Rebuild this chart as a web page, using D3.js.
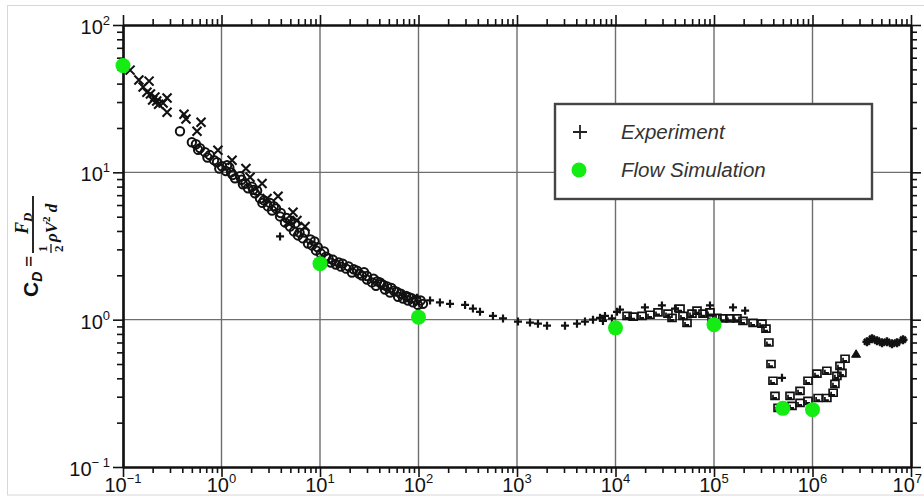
<!DOCTYPE html>
<html lang="en">
<head>
  <meta charset="UTF-8">
  <title>Drag coefficient of a cylinder</title>
  <script src="https://d3js.org/d3.v7.min.js"></script>
  <style>
    body { margin: 0; background: #fff; }
    svg { display: block; font-family: 'Liberation Sans', Arial, sans-serif; }
  </style>
</head>
<body>
  <div id="chart"></div>
  <script>
    // Re, C_D
    const crossPts = [
      [0.118, 49.4], [0.145, 42.3], [0.184, 41.6], [0.175, 35.0], [0.16, 38.0], [0.19, 34.0],
      [0.211, 32.4], [0.22, 30.5], [0.23, 29.0], [0.20, 31.0], [0.280, 31.9], [0.255, 29.5],
      [0.280, 25.6], [0.416, 24.8], [0.436, 23.0], [0.62, 21.9], [0.564, 19.0], [0.92, 14.1],
      [1.28, 12.1], [1.77, 10.6], [1.95, 9.25], [2.58, 8.4], [2.90, 6.65], [3.75, 6.87],
      [5.32, 5.35], [5.83, 4.71], [4.73, 4.57], [7.05, 4.29]
    ];
    const circlePts = [
      [0.379, 19.0], [0.50, 16.0], [0.55, 15.5], [0.605, 14.6], [0.68, 13.7], [0.76, 13.1],
      [0.84, 12.1], [0.90, 11.7], [1.01, 11.0], [1.14, 11.2], [1.11, 10.2], [1.25, 10.0],
      [1.37, 9.1], [1.54, 9.4], [1.65, 8.3], [1.86, 7.8], [2.04, 8.0], [2.19, 7.2],
      [2.46, 6.65], [2.70, 6.45], [2.96, 5.87], [3.26, 5.51], [3.58, 5.69], [3.93, 5.02],
      [4.41, 4.57], [4.96, 4.29], [5.44, 3.97], [5.98, 3.73], [6.72, 3.56], [7.55, 3.29],
      [8.29, 3.19], [9.1, 2.95], [10.2, 2.81], [11.5, 2.68], [12.9, 2.44], [14.5, 2.37],
      [16.3, 2.29], [18.4, 2.22], [21.1, 2.09], [23.8, 2.15], [26.7, 1.99], [30.0, 1.87],
      [33.7, 1.79], [37.0, 1.70], [40.7, 1.79], [45.7, 1.60], [51.4, 1.53], [56.4, 1.57],
      [62.0, 1.43], [69.6, 1.39], [78.2, 1.35], [87.9, 1.31], [98.8, 1.26], [111, 1.28],
      [1.2, 10.8], [1.6, 8.9], [2.3, 7.5], [3.1, 6.2], [4.0, 5.3], [5.0, 4.7], [6.2, 3.9],
      [8.8, 3.4], [12.2, 2.6], [15.5, 2.45], [19.5, 2.3], [25, 2.05], [28, 2.1], [35, 1.9],
      [42, 1.75], [48, 1.68], [60, 1.55], [75, 1.45], [85, 1.4], [105, 1.35],
      [0.58, 14.2], [0.72, 12.6], [0.95, 10.6], [1.3, 9.6], [1.75, 8.4], [2.1, 7.6],
      [2.6, 6.2], [3.4, 5.9], [4.6, 4.9], [5.6, 4.5], [7.0, 3.9], [8.0, 3.5], [9.5, 3.1],
      [11, 2.9], [13.5, 2.55], [17, 2.4], [22, 2.2], [30, 1.98], [38, 1.82], [44, 1.72],
      [53, 1.64], [66, 1.5], [80, 1.42], [95, 1.36]
    ];
    const plusPts = [
      [3.93, 3.67], [69.6, 1.50], [96.6, 1.41], [131, 1.35], [165, 1.31], [209, 1.28],
      [297, 1.26], [357, 1.19], [421, 1.13], [570, 1.06], [721, 1.02], [1023, 0.97],
      [1355, 0.955], [1633, 0.94], [2017, 0.91], [3070, 0.91], [4065, 0.94], [4900, 0.97],
      [5910, 1.0], [6960, 1.03], [7820, 1.06], [10360, 1.13], [7460, 0.98], [9200, 1.02],
      [11100, 1.17], [19900, 1.21], [29600, 1.25], [40200, 1.19], [91000, 1.25],
      [156000, 1.21], [207000, 1.15], [490000, 0.403]
    ];
    const squarePts = [
      [1.31e4, 1.06], [1.51e4, 1.05], [1.86e4, 1.06], [2.24e4, 1.08], [2.70e4, 1.12],
      [3.41e4, 1.10], [3.75e4, 1.03], [4.52e4, 1.19], [4.84e4, 1.06], [5.32e4, 0.95],
      [5.98e4, 1.10], [6.72e4, 1.15], [7.73e4, 1.10], [9.1e4, 1.12], [9.55e4, 1.02],
      [1.07e5, 1.03], [1.23e5, 1.02], [1.45e5, 1.02], [1.71e5, 1.02], [1.97e5, 0.98],
      [2.49e5, 0.95], [3.07e5, 0.94], [3.37e5, 0.87], [3.61e5, 0.70], [3.79e5, 0.50],
      [3.97e5, 0.385], [4.16e5, 0.304], [4.47e5, 0.252], [5.91e5, 0.304], [6.19e5, 0.26],
      [7.47e5, 0.329], [7.47e5, 0.272], [9.0e5, 0.281], [9.0e5, 0.385], [1.11e6, 0.43],
      [1.14e6, 0.294], [1.40e6, 0.45], [1.40e6, 0.294], [1.62e6, 0.319], [1.69e6, 0.367],
      [1.77e6, 0.416], [1.90e6, 0.486], [2.14e6, 0.543], [1.99e6, 0.436]
    ];
    const trianglePts = [[2.77e6, 0.587]];
    const blobPts = [
      [3.57e6, 0.708], [4.02e6, 0.743], [4.52e6, 0.72], [5.08e6, 0.698],
      [5.70e6, 0.708], [6.41e6, 0.687], [7.21e6, 0.698], [8.30e6, 0.731]
    ];
    const simPts = [
      [0.1, 53], [10, 2.4], [100, 1.04], [1e4, 0.88], [1e5, 0.925], [5e5, 0.25], [1e6, 0.245]
    ];
    const xTickExps = [-1, 0, 1, 2, 3, 4, 5, 6, 7];
    const yTickExps = [-1, 0, 1, 2];
    const legendLabels = ["Experiment", "Flow Simulation"];

    const W = 924, H = 497;
    const simGreen = "#14ec14";

    const svg = d3.select("#chart").append("svg")
      .attr("width", W).attr("height", H);

    // light outer frame
    svg.append("rect").attr("x", 7.5).attr("y", 5.5).attr("width", 930).attr("height", 489.5)
      .attr("fill", "none").attr("stroke", "#d8d8d8").attr("stroke-width", 1);

    const x = d3.scaleLog().domain([0.1, 1e7]).range([123, 911]);
    const y = d3.scaleLog().domain([0.1, 100]).range([467, 25]);

    const majorX = xTickExps.map(e => Math.pow(10, e));
    const majorY = yTickExps.map(e => Math.pow(10, e));
    const minorX = [], minorY = [];
    xTickExps.slice(0, -1).forEach(e => d3.range(2, 10).forEach(k => minorX.push(k * Math.pow(10, e))));
    yTickExps.slice(0, -1).forEach(e => d3.range(2, 10).forEach(k => minorY.push(k * Math.pow(10, e))));

    // grid
    const grid = svg.append("g").attr("stroke", "#6e6e6e").attr("stroke-width", 1.4);
    grid.selectAll(".gx").data(majorX.slice(1, -1)).join("line")
      .attr("x1", d => x(d)).attr("x2", d => x(d)).attr("y1", y(0.1)).attr("y2", y(100));
    grid.selectAll(".gy").data(majorY.slice(1, -1)).join("line")
      .attr("y1", d => y(d)).attr("y2", d => y(d)).attr("x1", x(0.1)).attr("x2", x(1e7));

    // axes with outward ticks
    function styleAxis(g) {
      g.selectAll(".domain").attr("stroke", "#111").attr("stroke-width", 2.2);
      g.selectAll(".tick line").attr("stroke", "#111").attr("stroke-width", 1.6);
      g.selectAll("text").remove();
    }
    const axes = [
      [d3.axisBottom(x), `translate(0,${y(0.1)})`, majorX, minorX],
      [d3.axisTop(x), `translate(0,${y(100)})`, majorX, minorX],
      [d3.axisLeft(y), `translate(${x(0.1)},0)`, majorY, minorY],
      [d3.axisRight(y), `translate(${x(1e7)},0)`, majorY, minorY]
    ];
    axes.forEach(([ax, tr, maj, min]) => {
      svg.append("g").attr("transform", tr)
        .call(ax.tickValues(min).tickSize(6).tickSizeOuter(0).tickFormat(""))
        .call(styleAxis);
      svg.append("g").attr("transform", tr)
        .call(ax.tickValues(maj).tickSize(10).tickSizeOuter(0).tickFormat(""))
        .call(styleAxis);
    });

    // tick labels 10^n (last one kept inside the page edge)
    const lab = svg.append("g").attr("fill", "#111").attr("font-size", 20);
    xTickExps.forEach((e, i) => {
      const last = i === xTickExps.length - 1;
      const t = lab.append("text")
        .attr("x", last ? W - 2 : x(Math.pow(10, e))).attr("y", 492)
        .attr("text-anchor", last ? "end" : "middle");
      t.append("tspan").text("10");
      t.append("tspan").attr("dy", -9).attr("font-size", 13)
        .text(e < 0 ? "\u2212" + (-e) : e);
    });
    yTickExps.forEach(e => {
      const t = lab.append("text").attr("x", 110).attr("y", y(Math.pow(10, e)) + 9)
        .attr("text-anchor", "end");
      t.append("tspan").text("10");
      t.append("tspan").attr("dy", -9).attr("font-size", 13)
        .text(e < 0 ? "\u2212 " + (-e) : e);
    });

    // y axis title, rotated
    const yt = svg.append("g").attr("transform", "translate(33,297) rotate(-90)")
      .attr("fill", "#111").attr("font-family", "'Liberation Serif', serif").attr("font-weight", "bold");
    const cd = yt.append("text").attr("x", 0).attr("y", 5).attr("font-size", 21)
      .attr("font-family", "'Liberation Sans', Arial, sans-serif");
    cd.append("tspan").text("C");
    cd.append("tspan").attr("dy", 4).attr("font-size", 14).attr("font-style", "italic").text("D");
    yt.append("text").attr("x", 30).attr("y", 3).attr("font-size", 20).text("=");
    yt.append("line").attr("x1", 44).attr("x2", 101).attr("y1", 0).attr("y2", 0)
      .attr("stroke", "#111").attr("stroke-width", 1.8);
    const num = yt.append("text").attr("x", 63).attr("y", -5).attr("font-size", 18).attr("font-style", "italic");
    num.append("tspan").text("F");
    num.append("tspan").attr("dy", 4).attr("font-size", 13).text("D");
    yt.append("text").attr("x", 45).attr("y", 14).attr("font-size", 13).text("1");
    yt.append("line").attr("x1", 44).attr("x2", 53).attr("y1", 18).attr("y2", 18)
      .attr("stroke", "#111").attr("stroke-width", 1.3);
    yt.append("text").attr("x", 45).attr("y", 30).attr("font-size", 13).text("2");
    const den = yt.append("text").attr("x", 55).attr("y", 24).attr("font-size", 17).attr("font-style", "italic");
    den.append("tspan").text("\u03c1V");
    den.append("tspan").attr("dy", -7).attr("font-size", 11).attr("font-style", "normal").text("2");
    den.append("tspan").attr("dy", 7).text(" d");

    // experiment markers
    const marks = svg.append("g").attr("stroke", "#111").attr("fill", "none");
    marks.selectAll(".cr").data(crossPts).join("path")
      .attr("transform", d => `translate(${x(d[0])},${y(d[1])})`)
      .attr("d", "M-4.5,-4.5L4.5,4.5M-4.5,4.5L4.5,-4.5").attr("stroke-width", 2.1);
    marks.selectAll(".ci").data(circlePts).join("circle")
      .attr("cx", d => x(d[0])).attr("cy", d => y(d[1])).attr("r", 4.2)
      .attr("stroke-width", 2);
    marks.selectAll(".pl").data(plusPts).join("path")
      .attr("transform", d => `translate(${x(d[0])},${y(d[1])})`)
      .attr("d", "M-4,0L4,0M0,-4L0,4").attr("stroke-width", 2.2);
    marks.selectAll(".sq").data(squarePts).join("path")
      .attr("transform", d => `translate(${x(d[0])},${y(d[1])})`)
      .attr("d", "M-4,-3.5h8v7h-8zM-2,-1v3h4").attr("stroke-width", 1.7);
    marks.selectAll(".tr").data(trianglePts).join("path")
      .attr("transform", d => `translate(${x(d[0])},${y(d[1])})`)
      .attr("d", "M0,-4L4.5,3.5L-4.5,3.5Z").attr("fill", "#111");
    marks.selectAll(".bl").data(blobPts).join("path")
      .attr("transform", d => `translate(${x(d[0])},${y(d[1])})`)
      .attr("d", "M-4.5,0L4.5,0M0,-4.5L0,4.5M-3,-3L3,3M-3,3L3,-3").attr("stroke-width", 2.4);

    // flow simulation
    svg.append("g").selectAll("circle").data(simPts).join("circle")
      .attr("cx", d => x(d[0])).attr("cy", d => y(d[1])).attr("r", 7.5)
      .attr("fill", simGreen);

    // legend
    const lg = svg.append("g");
    lg.append("rect").attr("x", 555).attr("y", 104).attr("width", 317).attr("height", 95)
      .attr("fill", "#fff").attr("stroke", "#444").attr("stroke-width", 2.4);
    lg.append("path").attr("d", "M573,132L587,132M580,125L580,139")
      .attr("stroke", "#222").attr("stroke-width", 1.8);
    lg.append("circle").attr("cx", 579).attr("cy", 170).attr("r", 7.5).attr("fill", simGreen);
    legendLabels.forEach((t, i) => {
      lg.append("text").attr("x", 621).attr("y", 139 + i * 38).attr("font-size", 20.5)
        .attr("font-style", "italic").attr("fill", "#333").text(t);
    });
  </script>
</body>
</html>
